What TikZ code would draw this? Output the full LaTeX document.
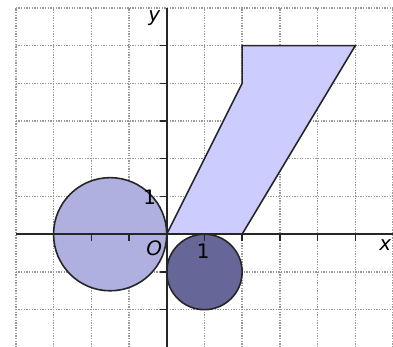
\documentclass[tikz,border=0pt]{standalone}
\usepackage{fontspec}
\setmainfont{DejaVu Sans}
\usepackage{tikz}
\usepackage{xcolor}
\definecolor{figlight}{RGB}{204,204,255}
\definecolor{figmid}{RGB}{176,176,224}
\definecolor{figdark}{RGB}{102,102,153}

\begin{document}
\begin{tikzpicture}[
    every node/.style={font=\fontsize{15}{17}\selectfont},
    gridline/.style={gray!80, line width=1pt, densely dotted},
    axisline/.style={line width=1.5pt, draw=black!85},
    shapeline/.style={line width=1.2pt, draw=black!85}
]

\useasboundingbox (-4.42,-2.99) rectangle (6.0,6.21);

% ---------------- GRID ----------------

\draw[gridline] (-4,-3) grid (6,6);


% ---------------- FIGURES ----------------

% parallelogram
\fill[figlight] (0,0) -- (2,0) -- (5,5) -- (2,5) -- (2,4) -- cycle;
\draw[shapeline] (0,0) -- (2,4) -- (2,5) -- (5,5) -- (2,0);

% big circle
\filldraw[
    fill=figmid,
    shapeline
] (-1.5,0) circle (1.5);

% small circle
\filldraw[
    fill=figdark,
    shapeline
] (1,-1) circle (1);


% ---------------- AXES ----------------

\draw[axisline] (-4,0) -- (6,0);
\draw[axisline] (0,-3) -- (0,6);

\foreach \t in {-3,...,5}
    \draw[line width=1pt, draw=black!85] (\t,0) -- (\t,-0.18);
\foreach \t in {-2,...,5}
    \draw[line width=1pt, draw=black!85] (0,\t) -- (-0.18,\t);

\node (labx) at (5.8,-0.3) {\textit{x}};
\node (laby) at (-0.33,5.73) {\textit{y}};
\node (labO) at (-0.33,-0.37) {\textit{O}};
\node (onex) at (0.97,-0.45) {1};
\node (oney) at (-0.45,0.99) {1};

\end{tikzpicture}
\end{document}
